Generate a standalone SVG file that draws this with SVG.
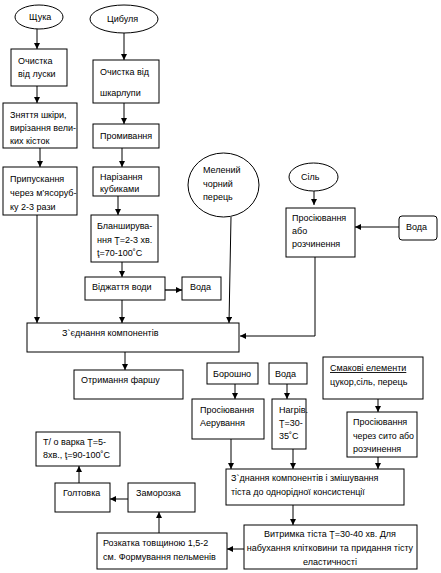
<svg xmlns="http://www.w3.org/2000/svg" width="441" height="573" viewBox="0 0 441 573">
<defs>
<marker id="ah" markerWidth="7" markerHeight="7" refX="6" refY="3" orient="auto" markerUnits="userSpaceOnUse"><path d="M0,0 L6,3 L0,6 z" fill="#000"/></marker>
<style>
.b{fill:#fff;stroke:#000;stroke-width:1}
text{font-family:"Liberation Sans",Arial,sans-serif;font-size:9px;fill:#000}
.a{fill:none;stroke:#000;stroke-width:1;marker-end:url(#ah)}
</style>
</defs>
<rect width="441" height="573" fill="#fff"/>
<g id="connectors">
<path class="a" d="M37,28 V49"/>
<path class="a" d="M37,86 V103"/>
<path class="a" d="M40,148 V167"/>
<path class="a" d="M37,215 V323"/>
<path class="a" d="M124,33 V60"/>
<path class="a" d="M124,103 V124"/>
<path class="a" d="M122,148 V167"/>
<path class="a" d="M118,196 V215"/>
<path class="a" d="M122,262 V277"/>
<path d="M165,290 H182" fill="none" stroke="#555" stroke-width="2" marker-end="url(#ah)"/>
<path class="a" d="M122,300 V323"/>
<path class="a" d="M231,217 L229,323"/>
<path class="a" d="M314,191 V205"/>
<path class="a" d="M399,227 H355"/>
<path class="a" d="M315,257 V336 H240"/>
<path class="a" d="M125,352 V370"/>
<path class="a" d="M235,384 V399"/>
<path class="a" d="M287,384 V399"/>
<path class="a" d="M378,399 V412"/>
<path class="a" d="M231,439 V469"/>
<path class="a" d="M293,449 V469"/>
<path class="a" d="M378,457 V469"/>
<path class="a" d="M293,505 V525"/>
<path class="a" d="M244,549 H227"/>
<path class="a" d="M159,533 V512"/>
<path class="a" d="M128,499 H110"/>
<path class="a" d="M79,483 V466"/>
</g>
<g id="shchuka"><ellipse class="b" cx="39" cy="17" rx="24" ry="12"/><text x="29" y="20">Щука</text></g>
<g id="tsybulia"><ellipse class="b" cx="124" cy="19" rx="34" ry="14"/><text x="107" y="22">Цибуля</text></g>
<g id="ochystka-luska"><rect class="b" x="11" y="49" width="56" height="37"/><text x="18" y="64">Очистка</text><text x="18" y="77">від луски</text></g>
<g id="ochystka-shkarlupa"><rect class="b" x="93" y="60" width="66" height="43"/><text x="100" y="75">Очистка від</text><text x="100" y="96">шкарлупи</text></g>
<g id="zniattia"><rect class="b" x="3" y="103" width="74" height="45"/><text x="10" y="118">Зняття шкіри,</text><text x="10" y="131">вирізання вели-</text><text x="10" y="144">ких кісток</text></g>
<g id="promyvannia"><rect class="b" x="93" y="124" width="66" height="24"/><text x="100" y="139">Промивання</text></g>
<g id="prypuskannia"><rect class="b" x="3" y="167" width="74" height="48"/><text x="10" y="182">Припускання</text><text x="10" y="196">через м’ясоруб-</text><text x="10" y="210">ку 2-3 рази</text></g>
<g id="narizannia"><rect class="b" x="93" y="167" width="66" height="29"/><text x="100" y="180">Нарізання</text><text x="100" y="192">кубиками</text></g>
<g id="blanshyruvannia"><rect class="b" x="91" y="215" width="67" height="47"/><text x="97" y="229">Бланширува-</text><text x="97" y="243">ння  Ţ=2-3 хв.</text><text x="97" y="256">ţ=70-100˚C</text></g>
<g id="vidzhattia"><rect class="b" x="85" y="277" width="80" height="23"/><text x="92" y="290">Віджаття води</text></g>
<g id="voda1"><rect class="b" x="182" y="277" width="39" height="23"/><text x="190" y="290">Вода</text></g>
<g id="perets"><ellipse class="b" cx="223.5" cy="185" rx="35.5" ry="32"/><text x="203" y="173">Мелений</text><text x="203" y="187">чорний</text><text x="203" y="200">перець</text></g>
<g id="sil"><ellipse class="b" cx="313.5" cy="177" rx="24.5" ry="14"/><text x="301" y="180">Сіль</text></g>
<g id="prosiuvannia-sil"><rect class="b" x="286" y="208" width="69" height="49"/><text x="292" y="221">Просіювання</text><text x="292" y="234">або</text><text x="292" y="247">розчинення</text></g>
<g id="voda2"><rect class="b" x="399" y="216" width="38" height="24" rx="3"/><text x="406" y="230">Вода</text></g>
<g id="ziednannia"><rect class="b" x="27" y="323" width="212" height="29"/><text x="62" y="336">З`єднання компонентів</text></g>
<g id="farsh"><rect class="b" x="74" y="370" width="109" height="29"/><text x="81" y="383">Отримання  фаршу</text></g>
<g id="boroshno"><rect class="b" x="207" y="363" width="51" height="21"/><text x="213" y="377">Борошно</text></g>
<g id="voda3"><rect class="b" x="269" y="363" width="38" height="21"/><text x="275" y="377">Вода</text></g>
<g id="smakovi"><rect class="b" x="323" y="357" width="100" height="42"/><text x="330" y="371" text-decoration="underline">Смакові елементи</text><text x="330" y="385">цукор,сіль, перець</text></g>
<g id="prosiuvannia-aeruvannia"><rect class="b" x="192" y="399" width="72" height="40"/><text x="200" y="413">Просіювання</text><text x="200" y="426">Аерування</text></g>
<g id="nahriv"><rect class="b" x="272" y="399" width="34" height="50"/><text x="279" y="413">Нагрів.</text><text x="279" y="426">Ţ=30-</text><text x="279" y="439">35˚C</text></g>
<g id="prosiuvannia-syto"><rect class="b" x="347" y="412" width="70" height="45"/><text x="353" y="425">Просіювання</text><text x="353" y="439" textLength="61" lengthAdjust="spacingAndGlyphs">через сито або</text><text x="353" y="452">розчинення</text></g>
<g id="ziednannia-tisto"><rect class="b" x="226" y="469" width="178" height="36"/><text x="231" y="481">З`днання компонентів і змішування</text><text x="231" y="495">тіста до однорідної консистенції</text></g>
<g id="varka"><rect class="b" x="36" y="432" width="84" height="34"/><text x="43" y="445">Т/ о варка Ţ=5-</text><text x="43" y="458">8хв., ţ=90-100˚C</text></g>
<g id="holtovka"><rect class="b" x="55" y="483" width="55" height="29"/><text x="63" y="496">Голтовка</text></g>
<g id="zamorozka"><rect class="b" x="128" y="483" width="67" height="29"/><text x="136" y="496">Заморозка</text></g>
<g id="vytrymka"><rect class="b" x="244" y="525" width="173" height="44"/><text x="330" y="537" text-anchor="middle">Витримка тіста Ţ=30-40 хв. Для</text><text x="330" y="551" text-anchor="middle">набухання клітковини та придання тісту</text><text x="330" y="565" text-anchor="middle">еластичності</text></g>
<g id="rozkatka"><rect class="b" x="97" y="533" width="130" height="36"/><text x="103" y="546">Розкатка товщиною 1,5-2</text><text x="103" y="560">см. Формування  пельменів</text></g>
</svg>
